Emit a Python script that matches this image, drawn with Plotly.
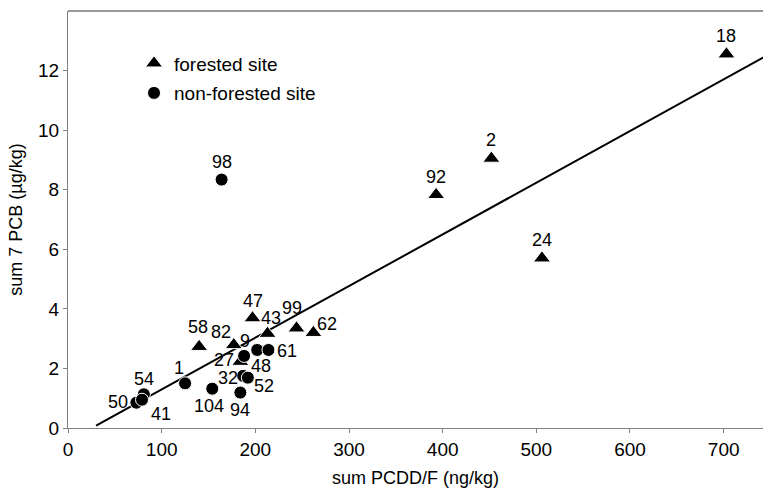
import plotly.graph_objects as go

# Forested sites (triangles)
forest_ids = ["18", "2", "92", "24", "47", "43", "99", "62", "58", "82", "27"]
forest_pcdd = [703, 452, 393, 506, 197, 213, 244, 262, 140, 177, 184]
forest_pcb = [12.55, 9.05, 7.83, 5.70, 3.69, 3.17, 3.35, 3.20, 2.73, 2.79, 2.23]

# Non-forested sites (circles)
open_ids = ["98", "9", "48", "61", "32", "52", "94", "104", "1", "54", "50", "41"]
open_pcdd = [164, 188, 202, 214, 187, 192, 184, 154, 125, 81, 73, 79]
open_pcb = [8.34, 2.42, 2.62, 2.62, 1.75, 1.69, 1.19, 1.32, 1.50, 1.13, 0.85, 0.95]

# Linear regression line
fit_slope = 0.01735
fit_intercept = -0.44
fit_x = [30, 745]

x_ticks = [0, 100, 200, 300, 400, 500, 600, 700]
y_ticks = [0, 2, 4, 6, 8, 10, 12]

# Pixel offsets of each site label from its marker (dx, dy; dy positive = up)
label_offset = {
    "18": (0, 18), "2": (0, 18), "92": (0, 18), "24": (0, 18), "98": (0, 18),
    "47": (0, 17), "43": (3, 16), "99": (-5, 20), "62": (14, 9), "58": (-1, 20),
    "82": (-13, 13), "27": (-16, 2), "9": (1, 15), "48": (4, -16), "61": (19, -1),
    "32": (-15, -2), "52": (16, -8), "94": (0, -17), "104": (-3, -17),
    "1": (-6, 15), "54": (0, 15), "50": (-18, 1), "41": (19, -14),
}

FONT = "Liberation Sans, Arial, sans-serif"
AXIS_GRAY = "#808080"

fig = go.Figure()

fig.add_trace(go.Scatter(
    x=fit_x,
    y=[fit_slope * v + fit_intercept for v in fit_x],
    mode="lines",
    line=dict(color="black", width=2),
    showlegend=False,
    hoverinfo="skip",
))

fig.add_trace(go.Scatter(
    x=forest_pcdd, y=forest_pcb, mode="markers",
    marker=dict(symbol="triangle-up", size=15, color="black",
                line=dict(color="white", width=1)),
    name="forested site", legendgroup="a",
))

fig.add_trace(go.Scatter(
    x=open_pcdd, y=open_pcb, mode="markers",
    marker=dict(symbol="circle", size=13, color="black",
                line=dict(color="white", width=1)),
    name="non-forested site", legendgroup="b",
))

annotations = []
for ids, xs, ys in ((forest_ids, forest_pcdd, forest_pcb), (open_ids, open_pcdd, open_pcb)):
    for sid, xv, yv in zip(ids, xs, ys):
        dx, dy = label_offset[sid]
        annotations.append(dict(
            x=xv, y=yv, text=sid, showarrow=False,
            xshift=dx, yshift=dy, xanchor="center", yanchor="middle",
            font=dict(family=FONT, size=18, color="black"),
        ))

fig.update_layout(
    width=763, height=488,
    margin=dict(l=68, r=0, t=11, b=60),
    paper_bgcolor="white", plot_bgcolor="white",
    font=dict(family=FONT, size=17, color="black"),
    annotations=annotations,
    legend=dict(
        x=0.095, y=0.92, xanchor="left", yanchor="top",
        bgcolor="rgba(0,0,0,0)", tracegroupgap=2,
        font=dict(family=FONT, size=19, color="black"),
        traceorder="grouped",
    ),
    xaxis=dict(
        range=[0, 742], tickvals=x_ticks, ticks="outside", ticklen=4,
        tickcolor=AXIS_GRAY, showline=True, linecolor=AXIS_GRAY, linewidth=1,
        showgrid=False, zeroline=False,
        tickfont=dict(family=FONT, size=19),
        title=dict(text="sum PCDD/F (ng/kg)", font=dict(family=FONT, size=18), standoff=12),
    ),
    yaxis=dict(
        range=[0, 14], tickvals=y_ticks, ticks="outside", ticklen=4,
        tickcolor=AXIS_GRAY, showline=True, linecolor=AXIS_GRAY, linewidth=1,
        showgrid=False, zeroline=False,
        tickfont=dict(family=FONT, size=19),
        title=dict(text="sum 7 PCB (µg/kg)", font=dict(family=FONT, size=18), standoff=10),
    ),
    shapes=[dict(type="line", xref="paper", yref="paper", x0=0, x1=1, y0=1, y1=1,
                 line=dict(color="#333333", width=1))],
)

fig.write_html("out.html")
